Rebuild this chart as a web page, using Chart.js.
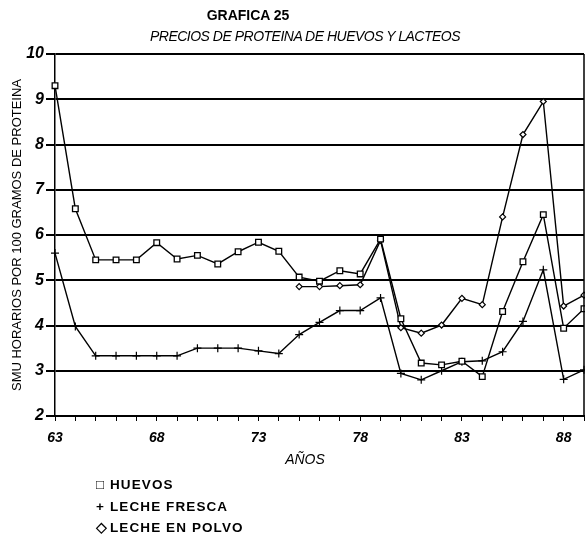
<!DOCTYPE html>
<html>
<head>
<meta charset="utf-8">
<script src="https://cdn.jsdelivr.net/npm/chart.js@4"></script>
<style>
  body { margin: 0; background: #fff; }
  #wrap { position: relative; width: 585px; height: 538px; font-family: "Liberation Sans", Arial, sans-serif; color: #000; }
  #wrap canvas { position: absolute; left: 0; top: 0; }
  .txt { position: absolute; white-space: nowrap; }
  #title { left: 248px; top: 7px; transform: translateX(-50%); font-weight: bold; font-size: 14px; }
  #subtitle { left: 305px; top: 28px; transform: translateX(-50%); font-style: italic; font-size: 14px; letter-spacing: -0.5px; }
  #xtitle { left: 305px; top: 451px; transform: translateX(-50%); font-style: italic; font-size: 14px; }
  #legend { left: 96px; top: 474px; font-weight: bold; font-size: 13.5px; line-height: 21.5px; letter-spacing: 1.1px; }
  #legend span { display: inline-block; width: 14px; font-weight: bold; letter-spacing: 0; }
</style>
</head>
<body>
<div id="wrap">
  <canvas id="chart" width="585" height="538"></canvas>
  <div class="txt" id="title">GRAFICA 25</div>
  <div class="txt" id="subtitle">PRECIOS DE PROTEINA DE HUEVOS Y LACTEOS</div>
  <div class="txt" id="xtitle">AÑOS</div>
  <div class="txt" id="legend">
    <div><span>□</span>HUEVOS</div>
    <div><span>+</span>LECHE FRESCA</div>
    <div><span>◇</span>LECHE EN POLVO</div>
  </div>
</div>
<script>
"use strict";
var years = [63, 64, 65, 66, 67, 68, 69, 70, 71, 72, 73, 74, 75, 76, 77, 78, 79, 80, 81, 82, 83, 84, 85, 86, 87, 88, 89];
var huevos = [9.30, 6.58, 5.45, 5.45, 5.45, 5.83, 5.47, 5.55, 5.36, 5.63, 5.84, 5.64, 5.07, 4.98, 5.21, 5.14, 5.91, 4.15, 3.17, 3.13, 3.21, 2.87, 4.31, 5.41, 6.45, 3.94, 4.37];
var lecheFresca = [5.60, 3.98, 3.33, 3.33, 3.33, 3.33, 3.33, 3.50, 3.50, 3.50, 3.44, 3.38, 3.80, 4.07, 4.33, 4.33, 4.61, 2.94, 2.80, 3.00, 3.20, 3.22, 3.42, 4.09, 5.23, 2.81, 3.02];
var lechePolvo = [null, null, null, null, null, null, null, null, null, null, null, null, 4.86, 4.86, 4.88, 4.90, 5.88, 3.95, 3.83, 4.01, 4.60, 4.46, 6.40, 8.22, 8.95, 4.43, 4.67];
var yTicks = [2, 3, 4, 5, 6, 7, 8, 9, 10];

/* right border of the plot box */
var boxPlugin = {
  id: "box",
  afterDraw: function (chart) {
    var ctx = chart.ctx;
    var a = chart.chartArea;
    ctx.save();
    ctx.strokeStyle = "#000";
    ctx.lineWidth = 1.5;
    ctx.beginPath();
    ctx.moveTo(a.right, a.top);
    ctx.lineTo(a.right, a.bottom);
    ctx.stroke();
    ctx.restore();
  },
};

new Chart("chart", {
  type: "line",
  data: {
    labels: years,
    datasets: [
      {
        label: "HUEVOS",
        data: huevos,
        borderColor: "#000",
        borderWidth: 1.4,
        pointStyle: "rect",
        pointRadius: 4,
        pointBorderWidth: 1.3,
        pointBackgroundColor: "#fff",
        pointBorderColor: "#000",
        clip: 8,
      },
      {
        label: "LECHE FRESCA",
        data: lecheFresca,
        borderColor: "#000",
        borderWidth: 1.4,
        pointStyle: "cross",
        pointRadius: 4,
        pointBorderWidth: 1.2,
        pointBorderColor: "#000",
        clip: 8,
      },
      {
        label: "LECHE EN POLVO",
        data: lechePolvo,
        borderColor: "#000",
        borderWidth: 1.4,
        pointStyle: "rectRot",
        pointRadius: 3,
        pointBorderWidth: 1.2,
        pointBackgroundColor: "#fff",
        pointBorderColor: "#000",
        clip: 8,
      },
    ],
  },
  options: {
    responsive: false,
    animation: false,
    layout: { autoPadding: false, padding: { top: 54, bottom: 68, left: 0, right: 1 } },
    plugins: {
      legend: { display: false },
      tooltip: { enabled: false },
    },
    scales: {
      x: {
        type: "category",
        offset: false,
        afterFit: function (scale) {
          scale.height = 54;
          scale.paddingLeft = 0;
          scale.paddingRight = 0;
        },
        grid: {
          drawOnChartArea: false,
          drawTicks: true,
          tickLength: 5,
          color: "#000",
          lineWidth: 1,
        },
        border: { color: "#000", width: 2 },
        ticks: {
          autoSkip: false,
          maxRotation: 0,
          minRotation: 0,
          padding: 9,
          color: "#000",
          font: { family: "Liberation Sans, Arial, sans-serif", size: 14, style: "italic", weight: "bold" },
          callback: function (value, index) {
            var y = years[index];
            return (y - 63) % 5 === 0 ? String(y) : "";
          },
        },
      },
      y: {
        min: 2,
        max: 10,
        afterFit: function (scale) { scale.width = 55; },
        afterBuildTicks: function (scale) {
          scale.ticks = yTicks.map(function (v) { return { value: v }; });
        },
        grid: {
          color: "#000",
          lineWidth: 2,
          tickLength: 9,
        },
        border: { color: "#000", width: 1.5 },
        ticks: {
          padding: 2,
          color: "#000",
          font: { family: "Liberation Sans, Arial, sans-serif", size: 16, style: "italic", weight: "bold" },
        },
        title: {
          display: true,
          text: "SMU HORARIOS POR 100 GRAMOS DE PROTEINA",
          color: "#000",
          padding: { top: 10, bottom: 0 },
          font: { family: "Liberation Sans, Arial, sans-serif", size: 13 },
        },
      },
    },
  },
  plugins: [boxPlugin],
});
</script>
</body>
</html>
